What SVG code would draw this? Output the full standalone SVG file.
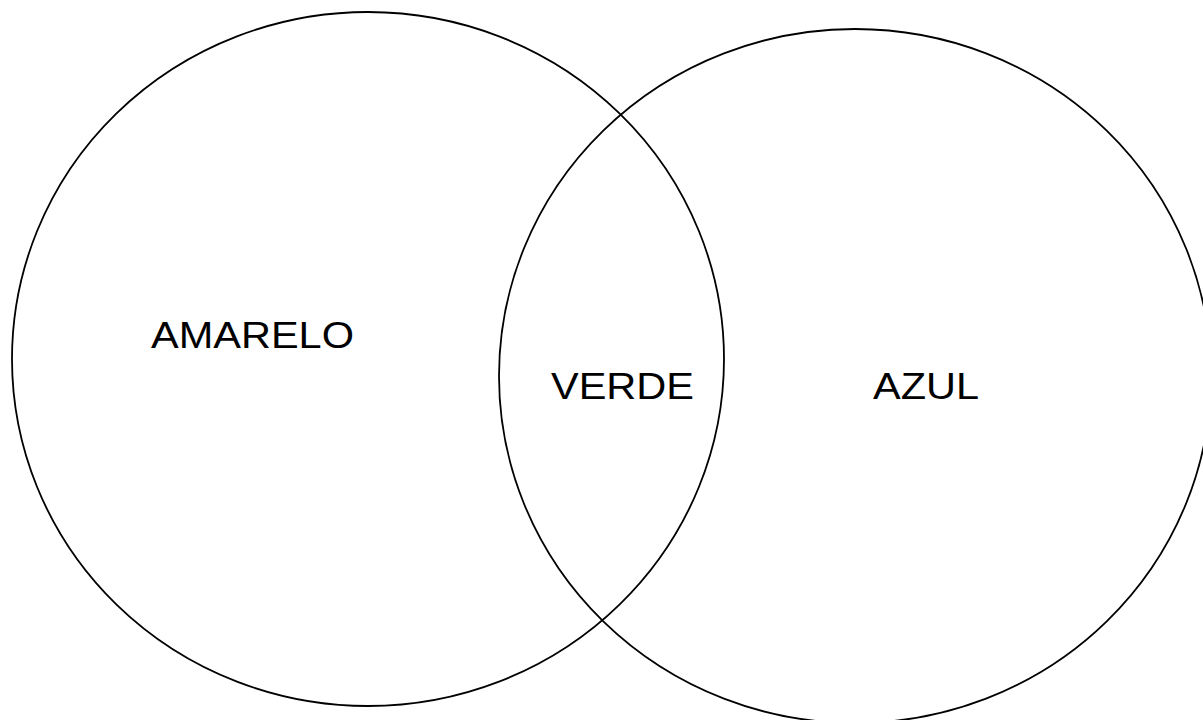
<svg xmlns="http://www.w3.org/2000/svg" width="1203" height="720" viewBox="0 0 1203 720">
<style>
.c{fill:none;stroke:#000;stroke-width:1.8}
.t{font-family:"Liberation Sans",Arial,sans-serif;font-size:37px;fill:#000}
</style>
<rect width="1203" height="720" fill="#fff"/>
<g id="amarelo"><ellipse class="c" cx="368" cy="359" rx="356" ry="347"/><text class="t" x="151" y="348" textLength="203" lengthAdjust="spacingAndGlyphs">AMARELO</text></g>
<g id="azul"><ellipse class="c" cx="855" cy="376" rx="356" ry="347"/><text class="t" x="873" y="399" textLength="106" lengthAdjust="spacingAndGlyphs">AZUL</text></g>
<g id="verde"><text class="t" x="551" y="399" textLength="143" lengthAdjust="spacingAndGlyphs">VERDE</text></g>
<g id="connectors"/>
</svg>
